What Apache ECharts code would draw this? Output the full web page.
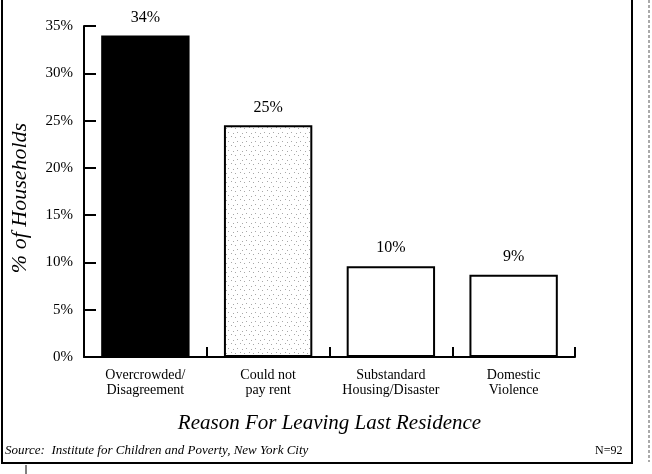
<!DOCTYPE html>
<html>
<head>
<meta charset="utf-8">
<script src="https://cdn.jsdelivr.net/npm/echarts@6/dist/echarts.min.js"></script>
<style>
  html, body { margin: 0; padding: 0; background: #fff; }
  #ec { width: 652px; height: 474px; }
</style>
</head>
<body>
<div id="ec"></div>
<script>
const categories = ["Overcrowded/\nDisagreement", "Could not\npay rent", "Substandard\nHousing/Disaster", "Domestic\nViolence"];
const values = [34, 24.5, 9.6, 8.7];
const valueLabels = ["34%", "25%", "10%", "9%"];
const yTicks = [0, 5, 10, 15, 20, 25, 30, 35];

const serif = "'Liberation Serif', 'Times New Roman', serif";

// sparse gray speckle for the "could not pay rent" bar
function speckle() {
  const c = document.createElement("canvas");
  c.width = 9;
  c.height = 9;
  const ctx = c.getContext("2d");
  ctx.fillStyle = "#ffffff";
  ctx.fillRect(0, 0, 9, 9);
  ctx.fillStyle = "#a8a8a8";
  [[1, 2], [6, 1], [3, 6], [8, 7]].forEach(function (p) {
    ctx.fillRect(p[0], p[1], 1, 1);
  });
  return c;
}

const barColors = ["#000000", { image: speckle(), repeat: "repeat" }, "#ffffff", "#ffffff"];

const chart = echarts.init(document.getElementById("ec"));
chart.setOption({
  animation: false,
  grid: { left: 84, right: 77, top: 26, bottom: 117 },
  xAxis: {
    type: "category",
    data: categories,
    name: "Reason For Leaving Last Residence",
    nameLocation: "middle",
    nameGap: 56,
    nameTextStyle: { fontFamily: serif, fontStyle: "italic", fontSize: 21, color: "#000" },
    axisLine: { lineStyle: { color: "#000", width: 2 } },
    axisTick: { show: true, inside: true, length: 10, lineStyle: { color: "#000", width: 2 } },
    axisLabel: { fontFamily: serif, fontSize: 14, color: "#000", margin: 11, lineHeight: 15, interval: 0 },
  },
  yAxis: {
    type: "value",
    min: 0,
    max: 35,
    interval: 5,
    axisLine: { show: true, lineStyle: { color: "#000", width: 2 } },
    axisTick: { show: true, inside: true, length: 12, lineStyle: { color: "#000", width: 2 } },
    splitLine: { show: false },
    axisLabel: {
      fontFamily: serif,
      fontSize: 15,
      color: "#000",
      margin: 11,
      formatter: function (v) { return yTicks.indexOf(v) >= 0 ? v + "%" : ""; },
    },
  },
  series: [
    {
      type: "bar",
      barWidth: "72%",
      data: values.map(function (v, i) {
        return { value: v, itemStyle: { color: barColors[i] } };
      }),
      itemStyle: { borderColor: "#000", borderWidth: 2 },
      label: {
        show: true,
        position: "top",
        distance: 10,
        fontFamily: serif,
        fontSize: 16,
        color: "#000",
        formatter: function (p) { return valueLabels[p.dataIndex]; },
      },
    },
  ],
  graphic: [
    { type: "rect", shape: { x: 2, y: -5, width: 630, height: 468 }, style: { fill: "none", stroke: "#000", lineWidth: 2 }, z: -1 },
    { type: "line", shape: { x1: 649, y1: 0, x2: 649, y2: 462 }, style: { stroke: "#555", lineWidth: 1, lineDash: [3, 2] } },
    { type: "line", shape: { x1: 26, y1: 465, x2: 26, y2: 474 }, style: { stroke: "#000", lineWidth: 1 } },
    {
      type: "text", x: 20, y: 198, rotation: Math.PI / 2,
      style: { text: "% of Households", font: "italic 22px " + serif, fill: "#000", align: "center", verticalAlign: "middle" },
    },
    { type: "text", left: 5, top: 444, style: { text: "Source:  Institute for Children and Poverty, New York City", font: "italic 13px " + serif, fill: "#000" } },
    { type: "text", left: 595, top: 445, style: { text: "N=92", font: "12px " + serif, fill: "#000" } },
  ],
});
</script>
</body>
</html>
